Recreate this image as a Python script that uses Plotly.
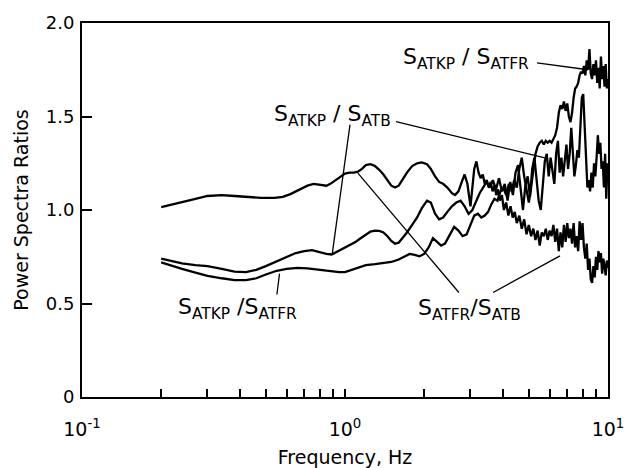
import math
import plotly.graph_objects as go

# ---------------- data ----------------
freq_fr_b = [0.20,0.22,0.24,0.27,0.30,0.34,0.38,0.43,0.48,0.54,0.58,0.62,0.67,0.72,0.76,0.80,0.85,0.88,0.92,0.96,
             1.00,1.04,1.08,1.12,1.16,1.20,1.25,1.30,1.35,1.40,1.45,1.50,1.55,1.60,1.65,1.72,1.80,1.88,1.96,2.05,
             2.12,2.20,2.28,2.36,2.45,2.55,2.62,2.70,2.78,2.85,2.92,3.00,3.05,3.10,3.16,3.22,3.28,3.34,3.40,3.46,
             3.52,3.58,3.64,3.70,3.76,3.82,3.88,3.95,4.02,4.10,4.18,4.26,4.34,4.42,4.50,4.60,4.70,4.80,4.90,5.00,
             5.10,5.20,5.30,5.40,5.50,5.60,5.70,5.80,5.90,6.00,6.10,6.20,6.30,6.40,6.50,6.60,6.70,6.80,6.90,7.00,
             7.10,7.20,7.30,7.40,7.50,7.60,7.70,7.80,7.90,8.00,8.10,8.20,8.30,8.40,8.50,8.60,8.70,8.80,8.90,9.00,
             9.10,9.20,9.30,9.40,9.50,9.60,9.70,9.80,9.90,10.0]
ratio_fr_b = [1.015,1.03,1.045,1.06,1.075,1.08,1.075,1.07,1.065,1.065,1.07,1.085,1.11,1.13,1.14,1.135,1.13,1.14,1.16,1.18,
              1.195,1.20,1.20,1.205,1.22,1.24,1.245,1.235,1.215,1.19,1.16,1.13,1.12,1.13,1.16,1.20,1.235,1.25,1.255,1.245,
              1.22,1.18,1.15,1.14,1.12,1.09,1.08,1.10,1.15,1.19,1.14,1.02,1.12,1.22,1.26,1.20,1.17,1.19,1.14,1.16,
              1.12,1.15,1.10,1.13,1.08,1.11,1.05,1.08,1.00,1.04,0.97,1.02,0.96,0.99,0.93,0.97,0.90,0.95,0.87,0.92,
              0.86,0.90,0.84,0.89,0.81,0.88,0.86,0.90,0.84,0.89,0.86,0.92,0.83,0.90,0.78,0.88,0.80,0.92,0.83,0.93,
              0.85,0.90,0.82,0.93,0.80,0.86,0.78,0.94,0.84,0.93,0.80,0.74,0.82,0.68,0.74,0.63,0.61,0.70,0.64,0.75,
              0.68,0.78,0.72,0.77,0.66,0.74,0.70,0.65,0.73,0.69]

freq_kp_b = [0.20,0.22,0.24,0.27,0.30,0.34,0.38,0.42,0.46,0.50,0.55,0.60,0.65,0.70,0.75,0.80,0.85,0.89,0.94,1.00,
             1.05,1.10,1.15,1.20,1.25,1.30,1.35,1.40,1.45,1.50,1.55,1.60,1.66,1.72,1.80,1.88,1.96,2.05,2.12,2.20,
             2.28,2.36,2.45,2.55,2.65,2.75,2.85,2.95,3.05,3.15,3.25,3.35,3.45,3.55,3.65,3.75,3.85,3.95,4.05,4.15,
             4.25,4.35,4.45,4.55,4.65,4.75,4.85,4.95,5.05,5.15,5.25,5.35,5.45,5.55,5.65,5.75,5.85,5.95,6.05,6.15,
             6.25,6.35,6.45,6.55,6.65,6.75,6.85,6.95,7.05,7.15,7.25,7.35,7.45,7.55,7.65,7.75,7.85,7.95,8.05,8.15,
             8.25,8.35,8.45,8.55,8.65,8.75,8.85,8.95,9.05,9.15,9.25,9.35,9.45,9.55,9.65,9.75,9.85,9.95,10.0]
ratio_kp_b = [0.74,0.725,0.715,0.705,0.70,0.685,0.67,0.668,0.68,0.70,0.725,0.75,0.77,0.78,0.785,0.775,0.765,0.762,0.78,0.80,
              0.815,0.83,0.85,0.87,0.885,0.89,0.888,0.88,0.86,0.835,0.82,0.825,0.85,0.88,0.92,0.96,1.01,1.05,1.04,0.98,
              0.95,0.96,0.99,1.02,1.04,1.05,1.02,0.98,1.00,1.05,1.09,1.12,1.15,1.12,1.16,1.11,1.17,1.10,1.14,1.05,
              1.15,1.08,1.20,1.24,1.10,1.00,1.13,1.18,1.07,1.22,1.28,1.14,1.05,1.00,1.16,1.26,1.30,1.18,1.28,1.22,
              1.14,1.30,1.37,1.20,1.28,1.18,1.25,1.35,1.22,1.30,1.44,1.28,1.18,1.24,1.32,1.28,1.46,1.60,1.62,1.45,
              1.25,1.12,1.16,1.10,1.20,1.12,1.25,1.18,1.28,1.40,1.30,1.36,1.22,1.26,1.12,1.30,1.06,1.25,1.20]

freq_kp_fr = [0.20,0.22,0.24,0.27,0.30,0.34,0.38,0.42,0.46,0.50,0.55,0.60,0.66,0.72,0.80,0.88,0.95,1.00,1.06,1.12,
              1.20,1.30,1.40,1.50,1.60,1.68,1.76,1.84,1.92,2.00,2.08,2.16,2.24,2.32,2.40,2.50,2.60,2.70,2.80,2.90,
              3.00,3.10,3.20,3.30,3.40,3.50,3.60,3.70,3.80,3.90,4.00,4.10,4.20,4.30,4.40,4.50,4.60,4.70,4.80,4.90,
              5.00,5.10,5.20,5.30,5.40,5.50,5.60,5.70,5.80,5.90,6.00,6.10,6.20,6.30,6.40,6.50,6.60,6.70,6.80,6.90,
              7.00,7.10,7.20,7.30,7.40,7.50,7.60,7.70,7.80,7.90,8.00,8.10,8.20,8.30,8.40,8.50,8.60,8.70,8.80,8.90,
              9.00,9.10,9.20,9.30,9.40,9.50,9.60,9.70,9.80,9.90,10.0]
ratio_kp_fr = [0.72,0.70,0.685,0.665,0.648,0.635,0.625,0.625,0.635,0.655,0.675,0.685,0.69,0.688,0.68,0.672,0.668,0.668,0.68,0.695,
               0.705,0.71,0.718,0.722,0.735,0.75,0.765,0.76,0.752,0.765,0.80,0.85,0.83,0.81,0.82,0.87,0.91,0.89,0.86,0.87,
               0.92,0.97,0.98,0.96,0.97,0.99,1.03,1.06,1.05,1.10,1.12,1.08,1.14,1.10,1.16,1.12,1.22,1.28,1.18,1.10,
               1.04,1.12,1.22,1.30,1.34,1.36,1.37,1.35,1.37,1.36,1.37,1.36,1.38,1.40,1.44,1.52,1.56,1.54,1.58,1.53,
               1.57,1.50,1.47,1.52,1.60,1.65,1.66,1.68,1.72,1.74,1.73,1.77,1.72,1.80,1.75,1.86,1.73,1.70,1.78,1.72,
               1.80,1.68,1.76,1.65,1.82,1.70,1.77,1.66,1.78,1.65,1.70]

x_tick_vals = [0.1,0.2,0.3,0.4,0.5,0.6,0.7,0.8,0.9,1,2,3,4,5,6,7,8,9,10]
x_tick_text = ["10<sup>-1</sup>"] + [""]*8 + ["10<sup>0</sup>"] + [""]*8 + ["10<sup>1</sup>"]
y_tick_vals = [0, 0.5, 1.0, 1.5, 2.0]
y_tick_text = ["0", "0.5", "1.0", "1.5", "2.0"]

# labels: (text, log10 x, y)
labels = [
    ("S<sub>ATKP</sub> / S<sub>ATFR</sub>", 0.460, 1.81),
    ("S<sub>ATKP</sub> / S<sub>ATB</sub>", -0.046, 1.505),
    ("S<sub>ATKP</sub> /S<sub>ATFR</sub>", -0.407, 0.475),
    ("S<sub>ATFR</sub>/S<sub>ATB</sub>", 0.475, 0.470),
]
# leader lines: ((log10 x0, y0), (log10 x1, y1))
leaders = [
    ((0.730, 1.787), (0.924, 1.750)),
    ((0.019, 1.457), (-0.049, 0.760)),
    ((0.194, 1.473), (0.760, 1.279)),
    ((-0.259, 0.548), (-0.249, 0.660)),
    ((0.433, 0.559), (0.049, 1.197)),
    ((0.563, 0.559), (0.8175, 0.755)),
]

FONT = "DejaVu Sans"

fig = go.Figure()
for fx, fy in [(freq_fr_b, ratio_fr_b), (freq_kp_b, ratio_kp_b), (freq_kp_fr, ratio_kp_fr)]:
    fig.add_trace(go.Scatter(x=fx, y=fy, mode="lines",
                             line=dict(color="black", width=2.3), showlegend=False, hoverinfo="skip"))

for (a, b) in leaders:
    fig.add_trace(go.Scatter(x=[10**a[0], 10**b[0]], y=[a[1], b[1]], mode="lines",
                             line=dict(color="black", width=1.3), showlegend=False, hoverinfo="skip"))

for text, lx, ly in labels:
    fig.add_annotation(x=lx, y=ly, xref="x", yref="y", text=text, showarrow=False,
                       font=dict(family=FONT, size=22, color="black"))

fig.update_layout(
    width=632, height=468,
    margin=dict(l=82, r=24, t=21, b=71),
    paper_bgcolor="white", plot_bgcolor="white",
    font=dict(family=FONT, color="black"),
)
fig.update_xaxes(type="log", range=[-1, 1], tickvals=x_tick_vals, ticktext=x_tick_text,
                 ticks="inside", ticklen=8, tickwidth=1.5, tickcolor="black",
                 showline=True, linecolor="black", linewidth=2, mirror=True,
                 showgrid=False, zeroline=False, ticklabelstandoff=14, automargin=False,
                 tickfont=dict(family=FONT, size=19),
                 title=dict(text="Frequency, Hz", font=dict(family=FONT, size=19)))
fig.update_yaxes(range=[0, 2], tickvals=y_tick_vals, ticktext=y_tick_text,
                 ticks="inside", ticklen=10, tickwidth=1.5, tickcolor="black",
                 showline=True, linecolor="black", linewidth=2, mirror=True,
                 showgrid=False, zeroline=False, ticklabelstandoff=2,
                 tickfont=dict(family=FONT, size=18),
                 title=dict(text="Power Spectra Ratios", font=dict(family=FONT, size=19), standoff=12))

fig.write_html("out.html")
